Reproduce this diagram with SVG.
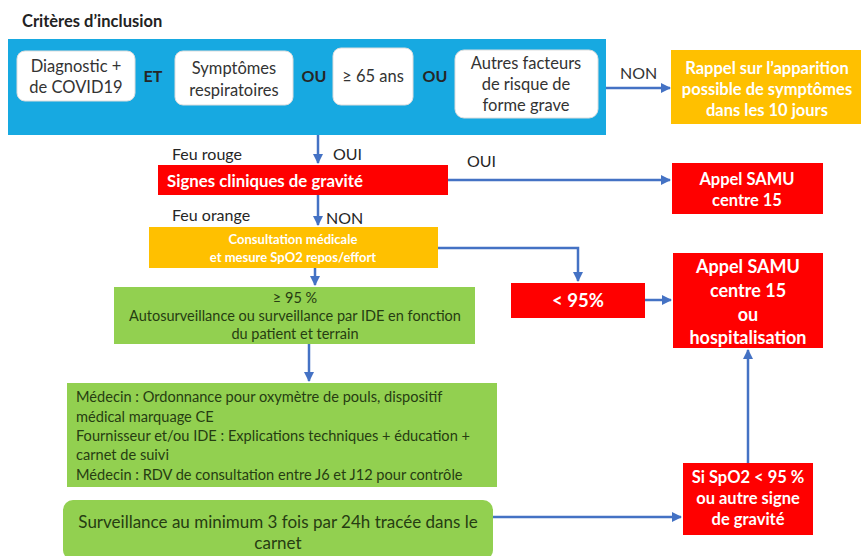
<svg xmlns="http://www.w3.org/2000/svg" width="861" height="556" viewBox="0 0 861 556">
<defs>
<marker id="ah" viewBox="0 0 10 10" refX="9" refY="5" markerWidth="4" markerHeight="4" orient="auto" markerUnits="strokeWidth">
<path d="M0,0 L10,5 L0,10 z" fill="#4472C4"/>
</marker>
<style>
text{font-family:Lato,"Open Sans",sans-serif;}
.lbl{font-size:16px;fill:#262626;}
.b{font-weight:bold;}
.wb{fill:#fff;stroke:#ddd;stroke-width:1;}
.wt{font-size:16.5px;fill:#333;text-anchor:middle;}
.red{fill:#FF0000;}
.org{fill:#FFC000;}
.grn{fill:#92D050;}
.rt{fill:#fff;font-weight:bold;text-anchor:middle;}
.gt{fill:#263d12;}
.con{fill:none;stroke:#4472C4;stroke-width:2.5;marker-end:url(#ah);}
</style>
</defs>
<rect width="861" height="556" fill="#fff"/>
<text x="22" y="27" class="b" style="font-size:16.5px;fill:#222">Critères d’inclusion</text>

<g id="inclusion">
<rect x="8" y="39" width="598" height="96" fill="#17A9E1"/>
<text x="153" y="82" class="lbl b" text-anchor="middle" fill="#222">ET</text>
<text x="314" y="82" class="lbl b" text-anchor="middle">OU</text>
<text x="435" y="82" class="lbl b" text-anchor="middle">OU</text>
</g>
<g id="diag">
<rect x="17" y="51" width="118" height="50" rx="8" class="wb"/>
<text x="76" y="72" class="wt">Diagnostic +</text>
<text x="76" y="93" class="wt">de COVID19</text>
</g>
<g id="sympt">
<rect x="175" y="51" width="118" height="54" rx="8" class="wb"/>
<text x="234" y="74" class="wt">Symptômes</text>
<text x="234" y="96" class="wt">respiratoires</text>
</g>
<g id="age">
<rect x="333" y="48" width="80" height="57" rx="8" class="wb"/>
<text x="373" y="82" class="wt">≥ 65 ans</text>
</g>
<g id="autres">
<rect x="455" y="50" width="143" height="68" rx="9" class="wb"/>
<text x="526" y="69" class="wt">Autres facteurs</text>
<text x="526" y="90" class="wt">de risque de</text>
<text x="526" y="111" class="wt">forme grave</text>
</g>
<g id="rappel">
<rect x="671" y="50" width="190" height="74" class="org"/>
<text x="767" y="74" class="rt" style="font-size:16.5px">Rappel sur l’apparition</text>
<text x="767" y="95" class="rt" style="font-size:16.5px">possible de symptômes</text>
<text x="767" y="116" class="rt" style="font-size:16.5px">dans les 10 jours</text>
</g>
<g id="signes">
<rect x="158" y="165" width="290" height="30" class="red"/>
<text x="167" y="187" class="b" style="font-size:16.8px;fill:#fff">Signes cliniques de gravité</text>
</g>
<g id="samu1">
<rect x="672" y="163" width="151" height="51" class="red"/>
<text x="747" y="185" class="rt" style="font-size:16.5px">Appel SAMU</text>
<text x="747" y="206" class="rt" style="font-size:16.5px">centre 15</text>
</g>
<g id="consult">
<rect x="149" y="227" width="289" height="41" class="org"/>
<text x="293" y="244" class="rt" style="font-size:13px">Consultation médicale</text>
<text x="293" y="262" class="rt" style="font-size:13px">et mesure SpO2 repos/effort</text>
</g>
<g id="inf95">
<rect x="511" y="283" width="134" height="35" class="red"/>
<text x="578" y="307" class="rt" style="font-size:18.5px">&lt; 95%</text>
</g>
<g id="samu2">
<rect x="673" y="253" width="150" height="95" class="red"/>
<text x="748" y="273" class="rt" style="font-size:18px">Appel SAMU</text>
<text x="748" y="297" class="rt" style="font-size:18px">centre 15</text>
<text x="748" y="321" class="rt" style="font-size:18px">ou</text>
<text x="748" y="344" class="rt" style="font-size:18px">hospitalisation</text>
</g>
<g id="sup95">
<rect x="114" y="287" width="361" height="57" class="grn"/>
<text x="295" y="303" class="gt" text-anchor="middle" style="font-size:14.5px">≥ 95 %</text>
<text x="295" y="321" class="gt" text-anchor="middle" style="font-size:14.5px">Autosurveillance ou surveillance par IDE en fonction</text>
<text x="295" y="339" class="gt" text-anchor="middle" style="font-size:14.5px">du patient et terrain</text>
</g>
<g id="medecin">
<rect x="67" y="383" width="430" height="104" class="grn"/>
<text x="76" y="402" class="gt" style="font-size:14.6px">Médecin : Ordonnance pour oxymètre de pouls, dispositif</text>
<text x="76" y="422" class="gt" style="font-size:14.6px">médical marquage CE</text>
<text x="76" y="441" class="gt" style="font-size:14.6px">Fournisseur et/ou IDE : Explications techniques + éducation +</text>
<text x="76" y="460" class="gt" style="font-size:14.6px">carnet de suivi</text>
<text x="76" y="480" class="gt" style="font-size:14.6px">Médecin : RDV de consultation entre J6 et J12 pour contrôle</text>
</g>
<g id="surv">
<rect x="63" y="500" width="430" height="60" rx="10" class="grn"/>
<text x="278" y="528" class="gt" text-anchor="middle" style="font-size:17px">Surveillance au minimum 3 fois par 24h tracée dans le</text>
<text x="278" y="549" class="gt" text-anchor="middle" style="font-size:17px">carnet</text>
</g>
<g id="sispo2">
<rect x="683" y="463" width="130" height="72" class="red"/>
<text x="748" y="483" class="rt" style="font-size:16.5px">Si SpO2 &lt; 95 %</text>
<text x="748" y="504" class="rt" style="font-size:16.5px">ou autre signe</text>
<text x="748" y="525" class="rt" style="font-size:16.5px">de gravité</text>
</g>

<g id="connectors">
<path class="con" d="M606,88 L670,88"/>
<path class="con" d="M318,135 L318,163"/>
<path class="con" d="M448,180 L670,180"/>
<path class="con" d="M318,195 L318,225"/>
<path class="con" d="M438,248 L578,248 L578,281"/>
<path class="con" d="M645,300 L671,300"/>
<path class="con" d="M315,268 L315,285"/>
<path class="con" d="M309,344 L309,381"/>
<path class="con" d="M493,517 L681,517"/>
<path class="con" d="M748,463 L748,350"/>
</g>
<g id="labels">
<text x="620" y="79" class="lbl" style="fill:#333">NON</text>
<text x="172" y="160" class="lbl">Feu rouge</text>
<text x="333" y="160" class="lbl">OUI</text>
<text x="467" y="167" class="lbl">OUI</text>
<text x="172" y="221" class="lbl">Feu orange</text>
<text x="326" y="224" class="lbl">NON</text>
</g>
</svg>
